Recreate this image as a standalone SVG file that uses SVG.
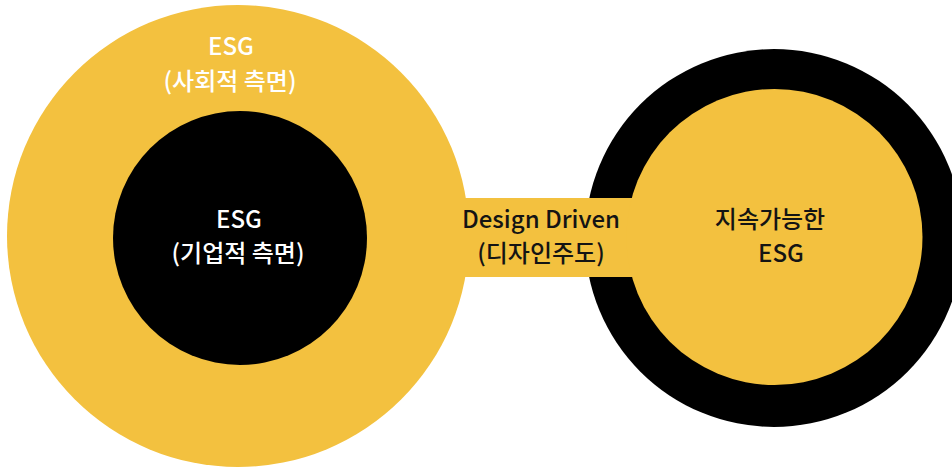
<svg xmlns="http://www.w3.org/2000/svg" width="952" height="470" viewBox="0 0 952 470">
<style>
.yel{fill:#F3C13F}
.blk{fill:#000}
text{font-family:"Noto Sans CJK KR","Noto Sans",sans-serif;font-size:24px;font-weight:500;text-anchor:middle}
.w{fill:#fff}
.d{fill:#141414}
</style>
<rect width="952" height="470" fill="#fff"/>
<g id="outer-esg">
<circle class="yel" cx="238" cy="236" r="231"/>
<text class="w" x="231" y="55">ESG</text>
<text class="w" x="230" y="90">(사회적 측면)</text>
</g>
<g id="sustainable-esg">
<circle class="blk" cx="774" cy="238" r="189"/>
</g>
<g id="connectors">
<rect class="yel" x="440" y="198" width="200" height="79"/>
</g>
<g id="sustainable-esg-inner">
<circle class="yel" cx="774.5" cy="237" r="148"/>
<text class="d" x="770" y="228">지속가능한</text>
<text class="d" x="781" y="262">ESG</text>
</g>
<g id="inner-esg">
<circle class="blk" cx="240" cy="238" r="127"/>
<text class="w" x="239" y="228">ESG</text>
<text class="w" x="238" y="262">(기업적 측면)</text>
</g>
<g id="design-driven">
<text class="d" x="541" y="228">Design Driven</text>
<text class="d" x="541" y="262">(디자인주도)</text>
</g>
</svg>
